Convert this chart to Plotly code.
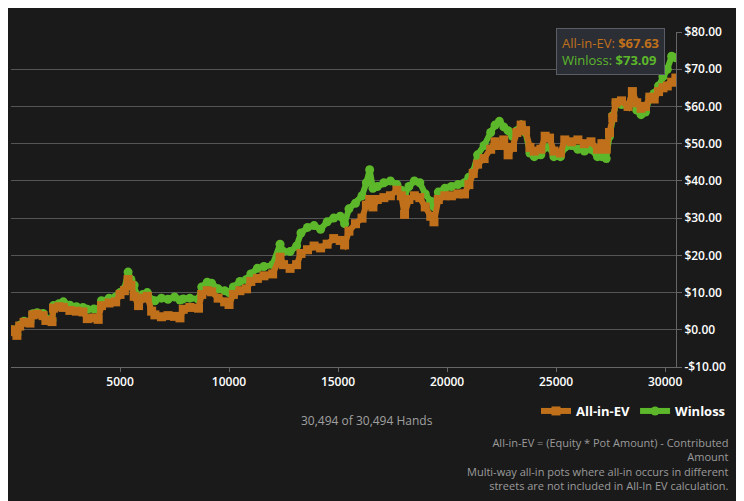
import plotly.graph_objects as go

hands = [0, 150, 270, 400, 600, 870, 1000, 1200, 1470, 1600, 1880, 1950, 2200, 2400, 2700, 3000, 3300, 3500, 3800, 4000,
         4150, 4500, 4800, 5000, 5200, 5370, 5500, 5650, 5850, 6050, 6250, 6450, 6600, 6900, 7200, 7500, 7750, 7900, 8200, 8600,
         8750, 9000, 9200, 9500, 9800, 10000, 10200, 10500, 10800, 11000, 11300, 11600, 12000, 12340, 12500, 12800, 13100, 13300, 13600, 13900,
         14200, 14500, 14800, 15100, 15300, 15500, 15800, 16100, 16300, 16450, 16600, 16800, 17100, 17400, 17700, 17900, 18050, 18250, 18500, 18750,
         19000, 19250, 19400, 19600, 19900, 20200, 20500, 20800, 21000, 21200, 21400, 21700, 22000, 22200, 22400, 22600, 22800, 23000, 23200, 23400,
         23600, 23800, 24000, 24300, 24500, 24700, 24900, 25200, 25400, 25700, 26000, 26300, 26600, 26900, 27100, 27300, 27450, 27600, 27750, 28000,
         28300, 28500, 28700, 28900, 29100, 29300, 29500, 29700, 29900, 30100, 30300, 30494]

all_in_ev = [0.0, -0.5, -1.5, 1.0, 2.0, 1.8, 4.0, 4.2, 3.8, 2.5, 2.2, 5.8, 6.2, 6.0, 5.2, 5.0, 4.8, 3.0, 3.2, 2.8,
             6.5, 7.2, 7.5, 9.5, 10.5, 13.5, 12.0, 9.0, 6.5, 8.5, 9.0, 5.0, 4.0, 3.5, 3.8, 3.6, 3.2, 5.5, 6.0, 5.8,
             9.5, 10.5, 10.2, 8.5, 7.5, 6.8, 9.5, 10.5, 11.0, 13.0, 13.8, 14.5, 15.0, 19.5, 17.5, 16.5, 17.5, 20.5, 21.5, 22.5,
             22.0, 23.0, 24.5, 24.0, 22.8, 26.5, 28.5, 30.0, 33.5, 35.0, 33.0, 35.0, 35.5, 36.0, 37.5, 36.0, 31.0, 35.0, 36.0, 35.5,
             33.0, 30.5, 29.0, 35.0, 36.0, 36.0, 36.5, 36.5, 39.0, 42.0, 44.5, 46.0, 48.5, 50.5, 49.5, 51.0, 47.0, 49.0, 53.0, 55.0,
             53.5, 49.0, 48.0, 48.5, 52.0, 51.5, 48.0, 47.5, 51.0, 50.5, 51.0, 50.0, 50.5, 48.5, 50.0, 48.5, 53.0, 57.0, 61.0, 61.5,
             60.0, 64.0, 61.0, 59.5, 60.0, 62.5, 62.0, 64.0, 65.0, 65.5, 66.5, 67.63]

winloss = [0.0, -0.3, -1.2, 1.2, 2.3, 2.2, 4.3, 4.6, 4.4, 3.0, 2.6, 6.5, 7.0, 7.5, 6.6, 6.2, 6.0, 5.5, 5.6, 5.4,
           7.8, 8.5, 8.8, 10.0, 11.0, 15.5, 13.5, 12.0, 8.5, 9.5, 10.0, 8.0, 7.8, 8.5, 8.2, 8.8, 8.0, 8.3, 8.5, 8.2,
           11.5, 12.8, 12.5, 11.0, 10.5, 10.0, 11.5, 13.0, 13.5, 15.0, 16.5, 17.0, 17.5, 23.0, 21.0, 21.0, 22.5, 26.0, 27.5, 28.0,
           27.0, 29.0, 30.0, 30.5, 28.5, 32.5, 34.0, 36.0, 39.5, 43.0, 38.0, 38.5, 39.5, 40.0, 39.0, 37.5, 36.0, 38.5, 40.0, 39.5,
           36.5, 34.5, 33.0, 37.0, 38.0, 38.5, 39.0, 39.5, 41.0, 42.5, 47.0, 49.5, 53.0, 55.0, 56.0, 54.5, 53.5, 52.0, 53.5, 55.0,
           53.0, 47.5, 46.5, 47.0, 49.0, 49.0, 46.5, 46.5, 49.0, 49.5, 48.5, 48.0, 48.5, 46.5, 46.5, 46.0, 52.0, 57.5, 61.0, 60.5,
           60.0, 62.5, 59.0, 57.8, 58.5, 62.5, 63.5, 65.5, 68.0, 70.0, 73.5, 73.09]

y_ticks = [-10, 0, 10, 20, 30, 40, 50, 60, 70, 80]
y_tick_labels = ["-$10.00", "$0.00", "$10.00", "$20.00", "$30.00", "$40.00", "$50.00", "$60.00", "$70.00", "$80.00"]
x_ticks = [5000, 10000, 15000, 20000, 25000, 30000]
x_tick_labels = ["5000", "10000", "15000", "20000", "25000", "30000"]

ORANGE = "#c0701a"
GREEN = "#5cb82a"
BG = "#1a1a1a"
FONT = "Open Sans"

# page shows the figure offset by 8px; figure is sized to the visible window
OFF = 8
W, H = 744 - OFF, 501 - OFF
PL, PT, PW, PH = 11 - OFF, 32 - OFF, 665, 335


def px(xp):
    return (xp - OFF - PL) / PW


def py(yp):
    return (PT + PH - (yp - OFF)) / PH


fig = go.Figure()
fig.add_trace(go.Scatter(
    x=hands, y=winloss, name="Winloss", mode="lines+markers", legendrank=2,
    line=dict(color=GREEN, width=6),
    marker=dict(symbol="circle", size=9, color=GREEN),
))
fig.add_trace(go.Scatter(
    x=hands, y=all_in_ev, name="All-in-EV", mode="lines+markers", legendrank=1,
    line=dict(color=ORANGE, width=6),
    marker=dict(symbol="square", size=9, color=ORANGE),
))

fig.add_annotation(
    xref="paper", yref="paper", x=px(610), y=py(52), xanchor="center", yanchor="middle",
    text=f"<span style='color:{ORANGE}'>All-in-EV: <b>$67.63</b></span><br>"
         f"<span style='color:{GREEN}'>Winloss: <b>$73.09</b></span>",
    showarrow=False, align="left", font=dict(family=FONT, size=13),
    bgcolor="#2b2e35", bordercolor="#5a5d66", borderwidth=1, borderpad=5,
)
fig.add_annotation(
    xref="paper", yref="paper", x=px(367), y=py(420), xanchor="center", yanchor="middle",
    text="30,494 of 30,494 Hands", showarrow=False,
    font=dict(family=FONT, size=12, color="#a0a0a0"),
)
fig.add_annotation(
    xref="paper", yref="paper", x=px(731), y=py(433),
    xanchor="right", yanchor="top", align="right",
    text="All-in-EV = (Equity * Pot Amount) - Contributed<br>Amount<br>"
         "Multi-way all-in pots where all-in occurs in different<br>"
         "streets are not included in All-In EV calculation.",
    showarrow=False, font=dict(family=FONT, size=11, color="#9a9a9a"),
)

fig.update_layout(
    width=W, height=H,
    margin=dict(l=PL, r=W - PL - PW, t=PT, b=H - PT - PH, autoexpand=False),
    paper_bgcolor=BG, plot_bgcolor=BG,
    font=dict(family=FONT, color="#ffffff"),
    showlegend=True,
    legend=dict(orientation="h", x=px(731), xanchor="right", y=py(411), yanchor="middle",
                font=dict(family=FONT, size=13, color="#ffffff", weight="bold"), bgcolor="rgba(0,0,0,0)",
                itemwidth=30, traceorder="normal"),
    xaxis=dict(range=[0, 30500], tickvals=x_ticks, ticktext=x_tick_labels, showgrid=False, zeroline=False,
               showline=True, linecolor="#666666", linewidth=1, ticks="outside", ticklen=4, tickcolor="#666666",
               tickfont=dict(family=FONT, size=12, color="#ffffff", weight=600)),
    yaxis=dict(range=[-10, 80], side="right", tickvals=y_ticks, ticktext=y_tick_labels, showgrid=True,
               gridcolor="#555555", gridwidth=1, zeroline=False, showline=True, linecolor="#666666",
               ticks="outside", ticklen=5, tickcolor="#666666",
               tickfont=dict(family=FONT, size=12, color="#ffffff", weight=600)),
)

fig.write_html("out.html")
